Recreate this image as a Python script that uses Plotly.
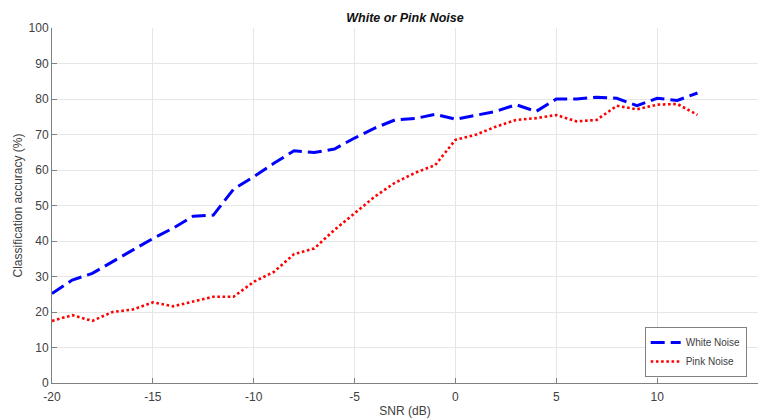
import plotly.graph_objects as go

snr = list(range(-20, 13))
white = [25.2, 29.0, 30.9, 34.1, 37.4, 40.7, 43.6, 47.0, 47.3, 54.6, 58.1,
         61.9, 65.4, 64.9, 65.9, 69.0, 71.8, 74.1, 74.5, 75.7, 74.3, 75.5,
         76.5, 78.4, 76.5, 80.0, 80.0, 80.5, 80.2, 78.1, 80.2, 79.6, 81.7]
pink = [17.5, 19.1, 17.5, 20.0, 20.7, 22.7, 21.6, 23.0, 24.3, 24.3, 28.5,
        31.3, 36.3, 37.9, 43.1, 47.8, 52.5, 56.4, 59.2, 61.4, 68.5, 69.9,
        72.2, 74.1, 74.6, 75.5, 73.7, 74.1, 78.1, 77.1, 78.4, 78.6, 75.5]
x_ticks = [-20, -15, -10, -5, 0, 5, 10, 15]
y_ticks = [0, 10, 20, 30, 40, 50, 60, 70, 80, 90, 100]

FONT = "Arial, Liberation Sans, sans-serif"

fig = go.Figure()
fig.add_trace(go.Scatter(x=snr, y=white, mode="lines", name="White Noise",
                         line=dict(color="#0000ff", width=3, dash="14px,6px")))
fig.add_trace(go.Scatter(x=snr, y=pink, mode="lines", name="Pink Noise",
                         line=dict(color="#ff0000", width=2.6, dash="2.6px,2.6px")))

axis_common = dict(showgrid=True, gridcolor="#e6e6e6", gridwidth=1,
                   zeroline=False, showline=True, linecolor="#808080", linewidth=1,
                   ticks="inside", ticklen=5, tickcolor="#808080",
                   tickfont=dict(family=FONT, size=12, color="#404040"),
                   mirror=False, automargin=False)

fig.update_layout(
    width=764, height=418,
    margin=dict(l=52, r=6, t=28, b=35),
    paper_bgcolor="white", plot_bgcolor="white",
    title=dict(text="<b><i>White or Pink Noise</i></b>", x=0.5, xanchor="center",
               xref="paper", y=1 - 18 / 418, yanchor="middle",
               font=dict(family=FONT, size=12.5, color="#111111")),
    xaxis=dict(range=[-20, 15], tickvals=x_ticks, ticktext=[str(v) for v in x_ticks],
               ticklabelstandoff=3,
               title=dict(text="SNR (dB)", standoff=3,
                          font=dict(family=FONT, size=12, color="#404040")),
               **axis_common),
    yaxis=dict(range=[0, 100], tickvals=y_ticks, ticktext=[str(v) for v in y_ticks],
               title=dict(text="Classification accuracy (%)", standoff=3,
                          font=dict(family=FONT, size=12, color="#404040")),
               **axis_common),
    legend=dict(x=0.984, y=0.017, xanchor="right", yanchor="bottom",
                bgcolor="white", bordercolor="#808080", borderwidth=1,
                font=dict(family=FONT, size=10, color="#404040"),
                itemwidth=30, tracegroupgap=0),
    showlegend=True,
)

fig.write_html("out.html", config={"displayModeBar": False},
               post_script="document.body.style.margin='0';document.body.style.overflow='hidden';")
